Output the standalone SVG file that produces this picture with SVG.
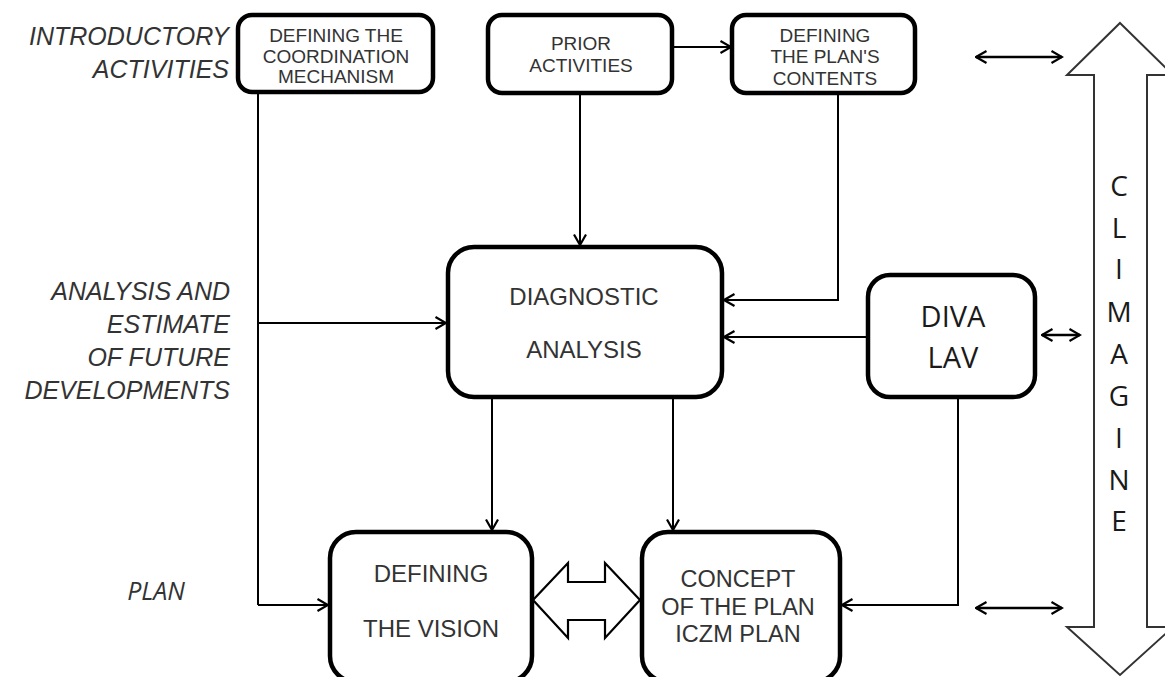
<svg xmlns="http://www.w3.org/2000/svg" width="1165" height="677" viewBox="0 0 1165 677">
<style>
.box{fill:#fff;stroke:#000;stroke-width:4.5}
.t{font-family:"Liberation Sans",Arial,sans-serif;fill:#333;text-anchor:middle}
.s19{font-size:19px}
.s24{font-size:24px}
.lab{font-family:"Liberation Sans",Arial,sans-serif;font-style:italic;font-size:25px;fill:#333;text-anchor:end}
.cal{font-family:"Open Sans","Noto Sans",sans-serif;fill:#1a1a1a;text-anchor:middle}
.ln{fill:none;stroke:#000;stroke-width:2}
.dbl{fill:none;stroke:#000;stroke-width:2.5}
.big{fill:#fff;stroke:#333;stroke-width:2}
</style>
<defs>
<marker id="ah" viewBox="0 0 14 14" refX="12.5" refY="7" markerWidth="14" markerHeight="14" orient="auto-start-reverse" markerUnits="userSpaceOnUse">
<path d="M2,1 L12.5,7 L2,13" fill="none" stroke="#000" stroke-width="2.2"/>
</marker>
</defs>
<rect width="1165" height="677" fill="#fff"/>

<g id="labels">
<text class="lab" x="229" y="45">INTRODUCTORY</text>
<text class="lab" x="229" y="78">ACTIVITIES</text>
<text class="lab" x="230" y="300">ANALYSIS AND</text>
<text class="lab" x="230" y="333">ESTIMATE</text>
<text class="lab" x="230" y="366">OF FUTURE</text>
<text class="lab" x="230" y="399">DEVELOPMENTS</text>
<text x="156" y="600" style="font-family:'Open Sans','Noto Sans',sans-serif;font-style:italic;font-size:25px;fill:#333;text-anchor:middle">PLAN</text>
</g>

<g id="climagine">
<path class="big" d="M1120,23 L1173,75 L1147,75 L1147,627 L1173,627 L1120,675 L1067,627 L1094,627 L1094,75 L1067,75 Z"/>
<g class="cal" style="font-size:28px">
<text x="1119" y="196">C</text>
<text x="1119" y="238">L</text>
<text x="1119" y="279">I</text>
<text x="1119" y="322">M</text>
<text x="1119" y="364">A</text>
<text x="1119" y="406">G</text>
<text x="1119" y="448">I</text>
<text x="1119" y="490">N</text>
<text x="1119" y="531">E</text>
</g>
</g>

<g id="connectors">
<line class="ln" x1="672" y1="47" x2="731" y2="47" marker-end="url(#ah)"/>
<line class="ln" x1="580" y1="93" x2="580" y2="245" marker-end="url(#ah)"/>
<polyline class="ln" points="838,93 838,300 724,300" marker-end="url(#ah)"/>
<line class="ln" x1="868" y1="337" x2="724" y2="337" marker-end="url(#ah)"/>
<line class="ln" x1="258" y1="92" x2="258" y2="605"/>
<line class="ln" x1="258" y1="323" x2="446" y2="323" marker-end="url(#ah)"/>
<line class="ln" x1="258" y1="605" x2="328" y2="605" marker-end="url(#ah)"/>
<line class="ln" x1="492" y1="397" x2="492" y2="530" marker-end="url(#ah)"/>
<line class="ln" x1="673" y1="397" x2="673" y2="530" marker-end="url(#ah)"/>
<polyline class="ln" points="958,397 958,605 842,605" marker-end="url(#ah)"/>
<line class="dbl" x1="976" y1="57" x2="1062" y2="57" marker-start="url(#ah)" marker-end="url(#ah)"/>
<line class="dbl" x1="1042" y1="335" x2="1080" y2="335" marker-start="url(#ah)" marker-end="url(#ah)"/>
<line class="dbl" x1="976" y1="608" x2="1062" y2="608" marker-start="url(#ah)" marker-end="url(#ah)"/>
<path d="M533,600 L568,563 L568,582 L605,582 L605,563 L640,600 L605,638 L605,620 L568,620 L568,638 Z" fill="#fff" stroke="#000" stroke-width="2.2"/>
</g>

<g id="coordination">
<rect class="box" x="238" y="15" width="195" height="77" rx="14"/>
<text class="t s19" x="336" y="42">DEFINING THE</text>
<text class="t s19" x="336" y="63">COORDINATION</text>
<text class="t s19" x="336" y="83">MECHANISM</text>
</g>

<g id="prior">
<rect class="box" x="488" y="15" width="184" height="78" rx="14"/>
<text class="t s19" x="581" y="50">PRIOR</text>
<text class="t s19" x="581" y="72">ACTIVITIES</text>
</g>

<g id="contents">
<rect class="box" x="732" y="15" width="183" height="78" rx="14"/>
<text class="t s19" x="825" y="42">DEFINING</text>
<text class="t s19" x="825" y="63">THE PLAN'S</text>
<text class="t s19" x="825" y="85">CONTENTS</text>
</g>

<g id="diagnostic">
<rect class="box" x="448" y="247" width="274" height="150" rx="26"/>
<text class="t s24" x="584" y="305">DIAGNOSTIC</text>
<text class="t s24" x="584" y="358">ANALYSIS</text>
</g>

<g id="diva">
<rect class="box" x="868" y="275" width="167" height="122" rx="22"/>
<text class="cal" style="font-size:29px" x="953" y="327">DIVA</text>
<text class="cal" style="font-size:29px" x="953" y="368">LAV</text>
</g>

<g id="vision">
<rect class="box" x="330" y="532" width="202" height="150" rx="26"/>
<text class="t s24" x="431" y="582">DEFINING</text>
<text class="t s24" x="431" y="637">THE VISION</text>
</g>

<g id="concept">
<rect class="box" x="642" y="532" width="198" height="150" rx="26"/>
<text class="t" style="font-size:23.5px" x="738" y="587">CONCEPT</text>
<text class="t" style="font-size:23.5px" x="738" y="615">OF THE PLAN</text>
<text class="t" style="font-size:23.5px" x="738" y="642">ICZM PLAN</text>
</g>
</svg>
